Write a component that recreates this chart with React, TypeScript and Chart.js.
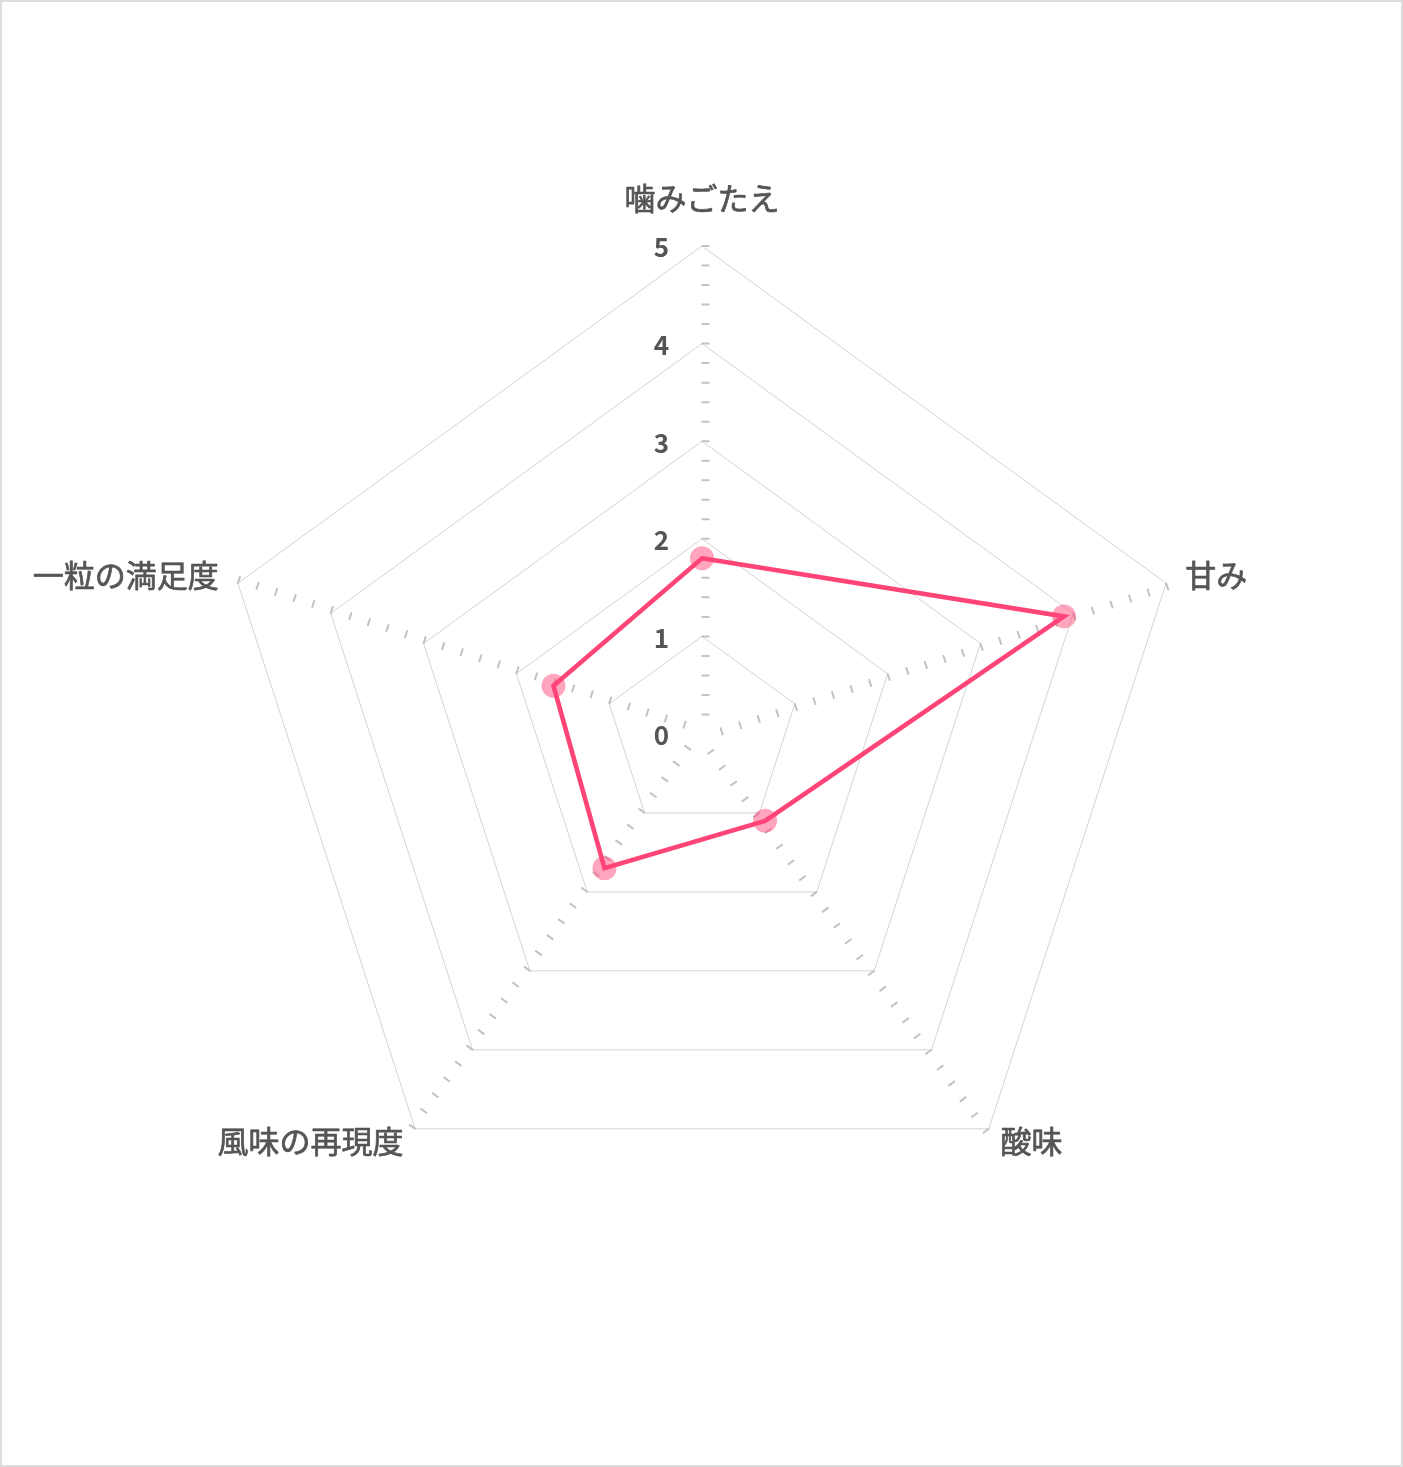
import React, { useEffect, useRef } from "react";
import { Chart, registerables } from "chart.js";

Chart.register(...registerables);

const categories = ["噛みごたえ", "甘み", "酸味", "風味の再現度", "一粒の満足度"];
const scores = [1.8, 3.9, 1.1, 1.7, 1.6];
const tickValues = [0, 1, 2, 3, 4, 5];

const LINE_COLOR = "#ff4477";
const POINT_COLOR = "rgba(255, 68, 119, 0.48)";
const TEXT_COLOR = "#555555";
const FONT_FAMILY = '"Noto Sans CJK JP", "Noto Sans", sans-serif';

const radarDecor = {
  id: "radarDecor",
  beforeDatasetsDraw(chart: any) {
    const scale = chart.scales.r;
    const ctx = chart.ctx;
    const R = scale.drawingArea;
    const period = R / 25;
    const start = 10;
    ctx.save();
    ctx.strokeStyle = "#c2c2c2";
    ctx.lineWidth = 8;
    ctx.setLineDash([2, period - 2]);
    ctx.lineDashOffset = start + 1;
    for (let i = 0; i < categories.length; i++) {
      const outer = scale.getPointPosition(i, R + 1.5);
      const ux = Math.cos(outer.angle);
      const uy = Math.sin(outer.angle);
      const px = -uy * 3.5;
      const py = ux * 3.5;
      ctx.beginPath();
      ctx.moveTo(scale.xCenter + ux * start + px, scale.yCenter + uy * start + py);
      ctx.lineTo(outer.x + px, outer.y + py);
      ctx.stroke();
    }
    ctx.restore();
  },
  afterDraw(chart: any) {
    const scale = chart.scales.r;
    const ctx = chart.ctx;
    const R = scale.drawingArea;
    ctx.save();
    ctx.fillStyle = TEXT_COLOR;
    ctx.strokeStyle = TEXT_COLOR;
    // tick labels
    ctx.font = `bold 26px ${FONT_FAMILY}`;
    ctx.textAlign = "center";
    ctx.textBaseline = "middle";
    tickValues.forEach((v) => {
      const d = scale.getDistanceFromCenterForValue(v);
      ctx.fillText(String(v), scale.xCenter - 40.5, scale.yCenter - d + 1.5);
    });
    // point labels (slightly emboldened to match a medium weight)
    ctx.font = `31px ${FONT_FAMILY}`;
    ctx.lineWidth = 0.7;
    ctx.lineJoin = "round";
    categories.forEach((label, i) => {
      const probe = scale.getPointPosition(i, R);
      const dx = probe.x - scale.xCenter;
      let x: number;
      let y: number;
      if (Math.abs(dx) < 1) {
        const pos = scale.getPointPosition(i, R + 48);
        ctx.textAlign = "center";
        x = pos.x;
        y = pos.y;
      } else {
        const pos = scale.getPointPosition(i, R + 20);
        const below = pos.y > scale.yCenter;
        ctx.textAlign = dx > 0 ? "left" : "right";
        x = pos.x;
        y = pos.y + (below ? -4 : -2);
      }
      ctx.fillText(label, x, y);
      ctx.strokeText(label, x, y);
    });
    ctx.restore();
  },
};

export default function App() {
  const canvasRef = useRef<HTMLCanvasElement | null>(null);

  useEffect(() => {
    if (!canvasRef.current) return;
    const chart = new Chart(canvasRef.current, {
      type: "radar",
      data: {
        labels: categories,
        datasets: [
          {
            data: scores,
            borderColor: LINE_COLOR,
            borderWidth: 4.6,
            fill: false,
            pointRadius: 12,
            pointBorderWidth: 0,
            pointBackgroundColor: POINT_COLOR,
            pointBorderColor: POINT_COLOR,
            tension: 0,
          },
        ],
      },
      options: {
        animation: false,
        responsive: true,
        maintainAspectRatio: false,
        layout: { padding: { left: 214, right: 213, top: 246, bottom: 245 } },
        plugins: { legend: { display: false }, tooltip: { enabled: false } },
        scales: {
          r: {
            min: 0,
            max: 5,
            ticks: { display: false, stepSize: 1 },
            grid: { color: "#d4d4d4", lineWidth: 1 },
            angleLines: { display: false },
            pointLabels: { display: false },
          },
        },
      },
      plugins: [radarDecor],
    });
    return () => chart.destroy();
  }, []);

  return (
    <>
      <div
        style={{
          position: "absolute",
          left: 0,
          top: 0,
          width: 1403,
          height: 1467,
          boxSizing: "border-box",
          border: "2px solid #dcdcdc",
          background: "#ffffff",
        }}
      />
      <div style={{ position: "absolute", left: 0, top: 0, width: 1403, height: 1467 }}>
        <canvas ref={canvasRef} />
      </div>
    </>
  );
}
